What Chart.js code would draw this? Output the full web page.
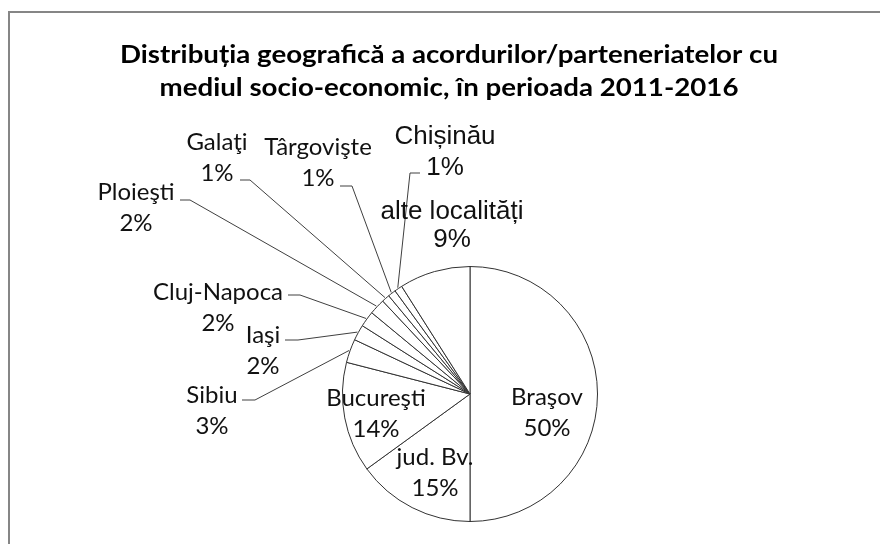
<!DOCTYPE html>
<html>
<head>
    <meta charset="UTF-8">
    <title>Distributia geografica</title>
    <script src="https://cdn.jsdelivr.net/npm/chart.js"></script>
    <style>
        body { margin: 0; background: #fff; }
        #wrap { width: 880px; height: 544px; position: relative; }
    </style>
</head>
<body>
<div id="wrap">
    <canvas id="geoChart" width="880" height="544"></canvas>
</div>

<script>
        // date
        const localitati = ['Braşov', 'jud. Bv.', 'Bucureşti', 'Sibiu', 'Iaşi', 'Cluj-Napoca',
                            'Ploieşti', 'Galaţi', 'Târgovişte', 'Chișinău', 'alte localități'];
        const procente = [50, 15, 14, 3, 2, 2, 2, 1, 1, 1, 9];
        const titlu = ['Distribuția geografică a acordurilor/parteneriatelor cu',
                       'mediul socio-economic, în perioada 2011-2016'];

        // pozitia etichetelor fata de centrul cercului (dx, dy = centrul primului rand)
        // tick = segmentul orizontal al liniei de legatura [x1, x2, y]
        const etichete = [
            { dx: 77,   dy: 3 },
            { dx: -35,  dy: 63 },
            { dx: -94,  dy: 4 },
            { dx: -258, dy: 1,    tick: [-228, -215, 6] },
            { dx: -207, dy: -59,  tick: [-185, -172, -54] },
            { dx: -252, dy: -102, tick: [-182, -170, -99] },
            { dx: -334, dy: -202, tick: [-290, -280, -194] },
            { dx: -253, dy: -252, tick: [-230, -220, -214] },
            { dx: -152, dy: -247, tick: [-130, -118, -208] },
            { dx: -25,  dy: -257, tick: [-50, -60, -221], arial: true },
            { dx: -18,  dy: -182, arial: true, gap: 28 }
        ];

        const fundal = {
            id: 'fundal',
            beforeDraw(chart) {
                const ctx = chart.ctx;
                ctx.save();
                ctx.fillStyle = '#fff';
                ctx.fillRect(0, 0, chart.width, chart.height);
                ctx.strokeStyle = '#868686';
                ctx.lineWidth = 2;
                ctx.strokeRect(9, 12, 1000, 1000);
                ctx.fillStyle = '#000';
                ctx.font = 'bold 25px Lato';
                ctx.textAlign = 'center';
                ctx.textBaseline = 'alphabetic';
                // fontul original e mai ingust, intindem pe orizontala pana la latimea din imagine
                const sx = 658 / ctx.measureText(titlu[0]).width;
                ctx.translate(449, 0);
                ctx.scale(sx, 1);
                ctx.fillText(titlu[0], 0, 63);
                ctx.fillText(titlu[1], 0, 96);
                ctx.restore();
            }
        };

        const etichetePlugin = {
            id: 'etichete',
            afterDatasetsDraw(chart) {
                const ctx = chart.ctx;
                const meta = chart.getDatasetMeta(0);
                const total = procente.reduce((a, b) => a + b, 0);
                ctx.save();
                meta.data.forEach((arc, i) => {
                    const p = arc.getProps(['x', 'y', 'startAngle', 'endAngle', 'outerRadius'], true);
                    const e = etichete[i];
                    const tx = p.x + e.dx, ty = p.y + e.dy;
                    if (e.tick) {
                        const mid = (p.startAngle + p.endAngle) / 2;
                        const rx = p.x + (p.outerRadius + 1) * Math.cos(mid);
                        const ry = p.y + (p.outerRadius + 1) * Math.sin(mid);
                        ctx.strokeStyle = '#404040';
                        ctx.lineWidth = 1;
                        ctx.beginPath();
                        ctx.moveTo(p.x + e.tick[0], p.y + e.tick[2]);
                        ctx.lineTo(p.x + e.tick[1], p.y + e.tick[2]);
                        ctx.lineTo(rx, ry);
                        ctx.stroke();
                    }
                    ctx.fillStyle = '#111';
                    ctx.textAlign = 'center';
                    ctx.textBaseline = 'middle';
                    ctx.font = e.arial ? '26px "Liberation Sans"' : '24px Lato';
                    const gap = e.gap || 31;
                    ctx.fillText(localitati[i], tx, ty);
                    ctx.fillText(Math.round(procente[i] / total * 100) + '%', tx, ty + gap);
                });
                ctx.restore();
            }
        };

        const ctx = document.getElementById('geoChart').getContext('2d');
        const geoChart = new Chart(ctx, {
            type: 'pie',
            data: {
                labels: localitati,
                datasets: [{
                    data: procente,
                    backgroundColor: '#fff',
                    borderColor: '#333',
                    borderWidth: 1
                }]
            },
            options: {
                responsive: false,
                animation: false,
                layout: { padding: { left: 342, right: 282, top: 266, bottom: 22 } },
                plugins: {
                    legend: { display: false },
                    title: { display: false },
                    tooltip: { enabled: false }
                }
            },
            plugins: [fundal, etichetePlugin]
        });
</script>
</body>
</html>
